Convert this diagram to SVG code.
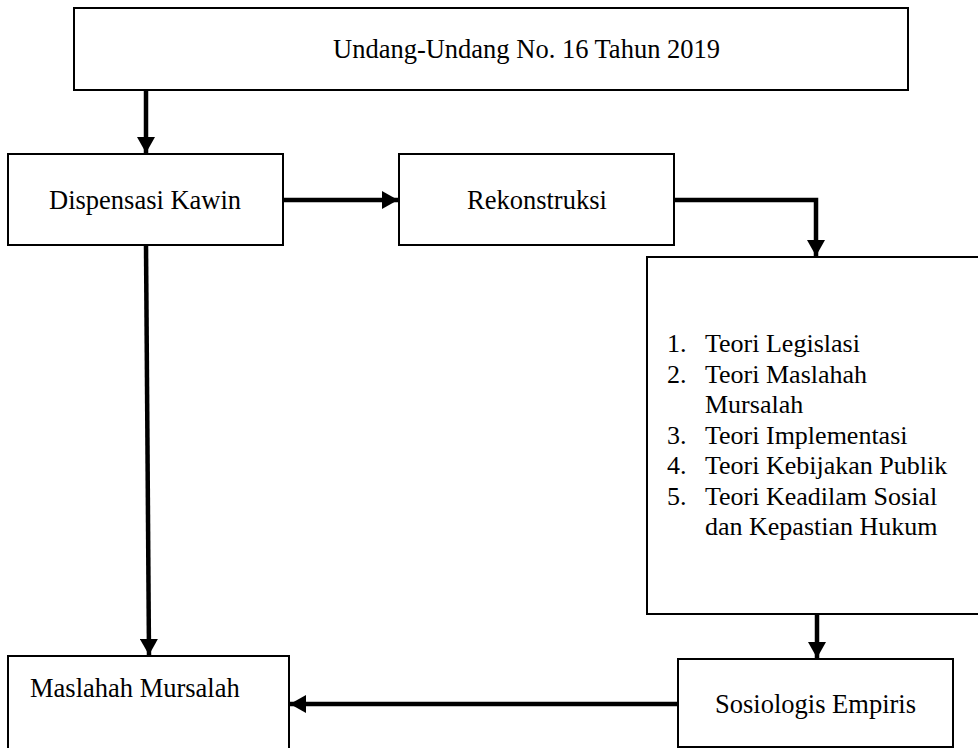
<svg xmlns="http://www.w3.org/2000/svg" width="978" height="748" viewBox="0 0 978 748">
<style>
.box{fill:#fff;stroke:#000;stroke-width:2}
.t{font-family:"Liberation Serif","Times New Roman",serif;font-size:26.5px;fill:#000}
.l{font-family:"Liberation Serif","Times New Roman",serif;font-size:26px;fill:#000}
.c{fill:none;stroke:#000;stroke-width:4.5}
</style>
<defs>
<marker id="ah" markerUnits="userSpaceOnUse" markerWidth="18" markerHeight="18" viewBox="0 0 16 18" refX="16" refY="9" orient="auto">
<path d="M0,0 L16,9 L0,18 Z" fill="#000"/>
</marker>
</defs>
<rect width="978" height="748" fill="#fff"/>
<g id="connectors">
<line class="c" x1="146" y1="90" x2="146" y2="153" marker-end="url(#ah)"/>
<line class="c" x1="283" y1="200" x2="398" y2="200" marker-end="url(#ah)"/>
<polyline class="c" points="674,200 816,200 816,256" marker-end="url(#ah)"/>
<line class="c" x1="146" y1="245" x2="149" y2="655" marker-end="url(#ah)"/>
<line class="c" x1="817" y1="614" x2="817" y2="658" marker-end="url(#ah)"/>
<line class="c" x1="677" y1="704" x2="290" y2="704" marker-end="url(#ah)"/>
</g>
<g id="uu">
<rect class="box" x="74" y="8" width="834" height="82"/>
<text class="t" x="333" y="58">Undang-Undang No. 16 Tahun 2019</text>
</g>
<g id="dispensasi">
<rect class="box" x="8" y="154" width="275" height="91"/>
<text class="t" x="49" y="209">Dispensasi Kawin</text>
</g>
<g id="rekonstruksi">
<rect class="box" x="399" y="154" width="275" height="91"/>
<text class="t" x="467" y="209">Rekonstruksi</text>
</g>
<g id="teori">
<rect class="box" x="647" y="257" width="340" height="357"/>
<text class="l" x="667" y="352">1.</text><text class="l" x="705" y="352">Teori Legislasi</text>
<text class="l" x="667" y="383">2.</text><text class="l" x="705" y="383">Teori Maslahah</text>
<text class="l" x="705" y="413">Mursalah</text>
<text class="l" x="667" y="444">3.</text><text class="l" x="705" y="444">Teori Implementasi</text>
<text class="l" x="667" y="474">4.</text><text class="l" x="705" y="474">Teori Kebijakan Publik</text>
<text class="l" x="667" y="505">5.</text><text class="l" x="705" y="505">Teori Keadilam Sosial</text>
<text class="l" x="705" y="535">dan Kepastian Hukum</text>
</g>
<g id="maslahah">
<rect class="box" x="8" y="656" width="281" height="100"/>
<text class="t" x="30" y="697">Maslahah Mursalah</text>
</g>
<g id="sosiologis">
<rect class="box" x="678" y="659" width="275" height="88"/>
<text class="t" x="715" y="713">Sosiologis Empiris</text>
</g>
</svg>
